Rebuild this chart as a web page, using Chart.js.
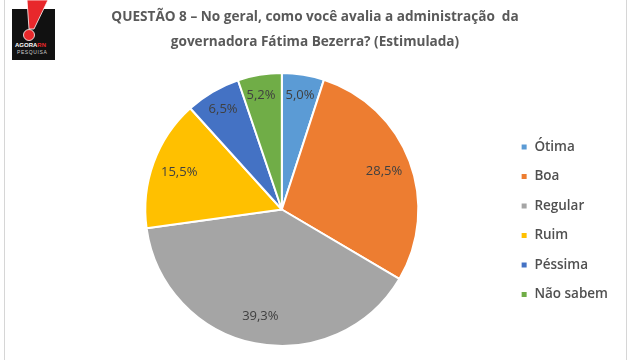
<!DOCTYPE html>
<html>
<head>
<meta charset="utf-8">
<script src="https://cdn.jsdelivr.net/npm/chart.js@4"></script>
<style>
  body { margin: 0; background: #fff; }
  .frame { position: relative; width: 630px; height: 360px; overflow: hidden; }
  .frame:before { content: ""; position: absolute; left: 4px; top: 0; bottom: 0; width: 1px; background: #d6d6d6; }
  .frame:after { content: ""; position: absolute; right: 3px; top: 0; bottom: 0; width: 1px; background: #d6d6d6; }
  #logo { position: absolute; left: 12px; top: 0; width: 44px; height: 60px; }
  #chart-title { position: absolute; left: 0; top: 3px; width: 630px; text-align: center;
    font: bold 13.6px/25px 'Open Sans'; color: #595959; white-space: pre; }
  canvas { position: absolute; left: 0; top: 0; }
</style>
</head>
<body>
<div class="frame">
  <canvas id="pie-chart" width="630" height="360"></canvas>
  <div id="chart-title"></div>
  <svg id="logo" viewBox="0 0 44 60">
    <rect x="0" y="9" width="43" height="51" fill="#111"/>
    <polygon points="15,0 36,0 22,29 17,29" fill="#e8282b" stroke="#fff" stroke-width="0.8"/>
    <circle cx="17" cy="35" r="5.5" fill="#e8282b" stroke="#fff" stroke-width="0.8"/>
    <text x="3" y="47" font-family="Liberation Sans" font-size="6" font-weight="bold" fill="#fff">AGORA<tspan fill="#e8282b">RN</tspan></text>
    <text x="5" y="54" font-family="Liberation Sans" font-size="5" fill="#ccc" letter-spacing="0.6">PESQUISA</text>
  </svg>
</div>
<script>
const categories = ["Ótima", "Boa", "Regular", "Ruim", "Péssima", "Não sabem"];
const values = [5.0, 28.5, 39.3, 15.5, 6.5, 5.2];
const colors = ["#5b9bd5", "#ed7d31", "#a5a5a5", "#ffc000", "#4472c4", "#70ad47"];
const titleLines = [
	"QUESTÃO 8 – No geral, como você avalia a administração  da",
	"governadora Fátima Bezerra? (Estimulada)"
];

document.getElementById("chart-title").textContent = titleLines.join("\n");

const formatPct = v => v.toFixed(1).replace(".", ",") + "%";

// rótulos de porcentagem dentro das fatias
const sliceLabels = {
	id: "sliceLabels",
	afterDatasetsDraw(chart){
		const ctx = chart.ctx;
		const meta = chart.getDatasetMeta(0);
		ctx.save();
		ctx.font = "13px 'Open Sans'";
		ctx.fillStyle = "#404040";
		ctx.textAlign = "center";
		ctx.textBaseline = "middle";
		meta.data.forEach((arc, i) => {
			const p = arc.getProps(["x", "y", "startAngle", "endAngle", "outerRadius"], true);
			const mid = (p.startAngle + p.endAngle) / 2;
			const k = values[i] > 10 ? 0.8 : 0.85;
			let x = p.x + Math.cos(mid) * p.outerRadius * k;
			const y = p.y + Math.sin(mid) * p.outerRadius * k;
			if (i == 5) x -= 2;
			ctx.fillText(formatPct(values[i]), x, y);
		});
		ctx.restore();
	}
};

new Chart(document.getElementById("pie-chart").getContext("2d"), {
	type: "pie",
	data: {
		labels: categories,
		datasets: [{
			data: values,
			backgroundColor: colors,
			borderColor: "#ffffff",
			borderWidth: 2
		}]
	},
	plugins: [sliceLabels],
	options: {
		responsive: false,
		animation: false,
		layout: { padding: { top: 72, left: 59, right: 12, bottom: 13 } },
		plugins: {
			tooltip: { enabled: false },
			title: { display: false },
			legend: {
				position: "right",
				align: "start",
				title: { display: true, text: "", font: { size: 1 }, padding: { top: 26, bottom: 25 } },
				labels: {
					boxWidth: 7,
					boxHeight: 7,
					padding: 16,
					color: "#505050",
					font: { family: "'Open Sans'", size: 13.5, weight: "600" }
				}
			}
		}
	}
});
</script>
</body>
</html>
